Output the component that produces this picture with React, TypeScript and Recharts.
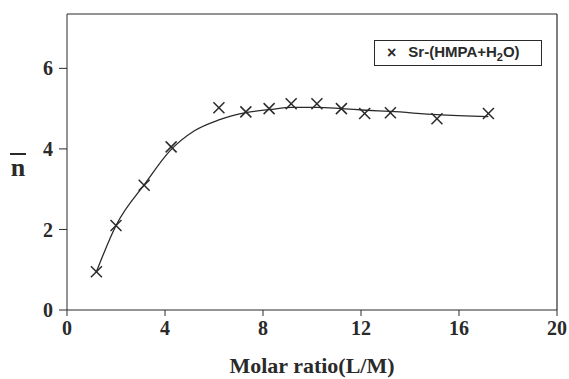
import { ComposedChart, Line, Scatter, XAxis, YAxis, ReferenceLine } from "recharts";

// measured points, Sr-(HMPA+H2O)
const ratioX = [1.2, 2.0, 3.15, 4.25, 6.2, 7.3, 8.25, 9.15, 10.2, 11.2, 12.15, 13.2, 15.1, 17.2];
const nBar = [0.95, 2.1, 3.1, 4.05, 5.02, 4.92, 5.0, 5.12, 5.12, 5.0, 4.88, 4.9, 4.75, 4.88];

// hand-drawn fit curve
const fitX = [1.2, 2.0, 3.2, 4.2, 5.2, 6.2, 7.3, 8.3, 9.2, 10.2, 11.2, 12.2, 13.2, 15.1, 17.2];
const fitY = [0.95, 2.1, 3.15, 3.95, 4.45, 4.72, 4.9, 4.98, 5.03, 5.03, 5.0, 4.96, 4.93, 4.85, 4.8];

const xTicks = [0, 4, 8, 12, 16, 20];
const yTicks = [0, 2, 4, 6];

const points = ratioX.map((x, i) => ({ x, y: nBar[i] }));
const fit = fitX.map((x, i) => ({ x, y: fitY[i] }));

const INK = "#2a2a2a";
const SERIF = "'Liberation Serif', 'Times New Roman', serif";

const Cross = (props: any) => {
  const { cx, cy } = props;
  if (cx == null || cy == null) return null;
  const r = 5.5;
  return (
    <g stroke={INK} strokeWidth={1.5}>
      <line x1={cx - r} y1={cy - r} x2={cx + r} y2={cy + r} />
      <line x1={cx - r} y1={cy + r} x2={cx + r} y2={cy - r} />
    </g>
  );
};

// "n" with a bar over it, set left of the y axis
const NBarLabel = (props: any) => {
  const vb = props.viewBox || {};
  const x = (vb.x ?? 0) + 18;
  const cy = (vb.y ?? 0) + (vb.height ?? 0) / 2 + 6;
  return (
    <g>
      <line x1={x - 8} x2={x + 8} y1={cy - 14} y2={cy - 14} stroke={INK} strokeWidth={2} />
      <text
        x={x}
        y={cy + 8}
        textAnchor="middle"
        fontSize={26}
        fontWeight="bold"
        fill={INK}
        fontFamily={SERIF}
      >
        n
      </text>
    </g>
  );
};

const LegendBox = () => (
  <div
    style={{
      position: "absolute",
      left: 374,
      top: 40,
      border: `1.5px solid ${INK}`,
      width: 168,
      height: 26,
      boxSizing: "border-box",
      display: "flex",
      alignItems: "center",
      fontFamily: "'Liberation Sans Narrow', 'Liberation Sans', Arial, sans-serif",
      fontSize: 15,
      fontWeight: 600,
      color: INK,
      paddingLeft: 12,
    }}
  >
    <span style={{ marginRight: 12, fontSize: 16 }}>×</span>
    <span>
      Sr-(HMPA+H<sub style={{ fontSize: 11 }}>2</sub>O)
    </span>
  </div>
);

export default function App() {
  return (
    <div style={{ position: "absolute", left: 0, top: 0, width: 569, height: 379, background: "#fff" }}>
      <ComposedChart width={569} height={379} margin={{ top: 14, right: 12, left: 0, bottom: 0 }}>
        <XAxis
          type="number"
          dataKey="x"
          domain={[0, 20]}
          ticks={xTicks}
          height={69}
          stroke={INK}
          tickSize={6}
          tickMargin={5}
          tick={{ fontSize: 20, fontWeight: "bold", fill: INK, fontFamily: SERIF }}
          label={{
            value: "Molar ratio(L/M)",
            position: "insideBottom",
            offset: 6,
            style: { fontSize: 22, fontWeight: "bold", fill: INK, fontFamily: SERIF },
          }}
        />
        <YAxis
          type="number"
          domain={[0, 7.35]}
          ticks={yTicks}
          width={67}
          stroke={INK}
          tickSize={8}
          tickMargin={6}
          tick={{ fontSize: 20, fontWeight: "bold", fill: INK, fontFamily: SERIF }}
          label={<NBarLabel />}
        />
        <ReferenceLine y={7.35} stroke={INK} strokeWidth={1.2} />
        <ReferenceLine x={20} stroke={INK} strokeWidth={1.2} />
        <Line
          data={fit}
          dataKey="y"
          type="monotone"
          stroke={INK}
          strokeWidth={1.3}
          dot={false}
          isAnimationActive={false}
        />
        <Scatter
          data={points}
          dataKey="y"
          name="Sr-(HMPA+H2O)"
          shape={Cross}
          isAnimationActive={false}
        />
      </ComposedChart>
      <LegendBox />
    </div>
  );
}
